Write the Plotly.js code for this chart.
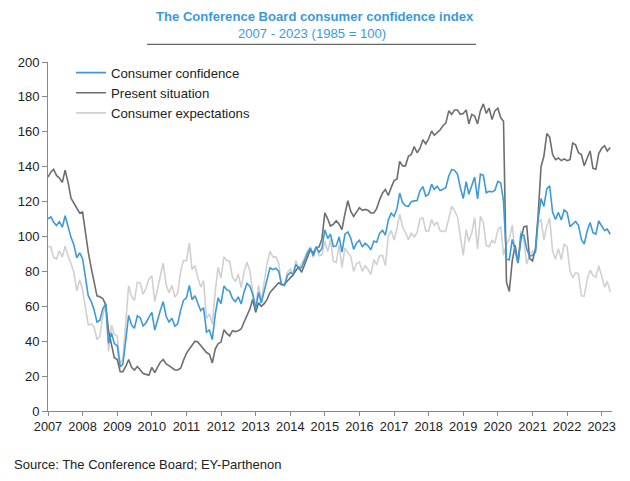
<!DOCTYPE html>
<html>
<head>
<meta charset="utf-8">
<script src="https://cdn.plot.ly/plotly-3.0.1.min.js"></script>
<style>html,body{margin:0;padding:0;background:#fff;}#chart{width:630px;height:481px;}</style>
</head>
<body>
<div id="chart"></div>
<script>
// Monthly observations, Jan 2007 - Apr 2023
const startYear = 2007;
const consumerConfidence = [
 110.2,111.2,108.2,106.3,108.5,105.3,111.9,105.6,99.5,95.2,87.8,90.6,
 87.3,76.4,65.9,62.8,58.1,51.0,51.9,58.5,61.4,38.8,44.7,38.6,
 37.4,25.3,26.9,40.8,54.8,49.3,47.4,54.5,53.4,48.7,50.6,53.6,
 56.5,46.4,52.3,57.7,62.7,54.3,51.0,53.2,48.6,49.9,57.8,63.4,
 64.8,72.0,63.8,66.0,61.7,57.6,59.2,45.2,46.4,40.9,55.2,64.8,
 61.5,71.6,69.5,68.7,64.4,62.7,65.4,61.3,68.4,73.1,71.5,66.7,
 58.4,68.0,61.9,69.0,76.2,82.1,81.0,81.8,80.2,72.4,72.0,77.5,
 79.4,78.3,83.9,81.7,82.2,86.4,90.3,93.4,89.0,94.1,91.0,93.1,
 103.8,98.8,101.4,94.3,94.6,99.8,91.0,101.3,102.6,99.1,92.6,96.3,
 97.8,94.0,96.2,94.7,92.4,97.4,96.7,101.8,103.5,100.8,109.4,113.3,
 111.6,116.1,124.9,119.4,117.6,117.3,120.0,120.4,120.6,126.2,128.6,123.1,
 124.3,130.0,127.0,128.8,126.4,127.1,127.9,134.7,138.4,137.9,135.7,128.1,
 121.7,131.4,124.2,129.2,134.1,121.5,135.7,135.1,125.1,125.9,125.5,126.5,
 131.6,130.7,120.0,86.9,86.6,98.3,92.6,84.8,101.3,100.9,92.9,88.6,
 89.3,91.3,109.7,121.7,117.2,127.3,129.1,113.8,109.8,113.8,109.5,115.2,
 113.8,105.7,107.2,108.6,106.4,98.4,95.7,103.2,108.0,102.2,101.4,109.0,
 106.0,103.4,104.2,101.3
];
const presentSituation = [
 134,137,138.5,135,133.5,131,138,131,122,119,116.5,113.5,
 114,102,91,82,73,66,65.5,64.5,61,46,38,30.5,
 29.5,22.5,22.5,25.5,29.5,25,23.5,25.5,23.5,21.5,21,20.5,
 25,22,25,28,29.5,27,26,25,23.5,23.5,24.5,29,
 33,35.5,38,40,39.5,37.5,36,33.5,32.5,27.5,35.5,38.5,
 39.5,46.5,44.5,43,46,45.5,46,47,51,55,58.5,64,
 56.5,62,60,61.5,64,68,70,72,73.5,72.5,72.5,74.5,
 76.5,78,80.5,82.5,79.5,84.5,88,92.5,90.5,93.5,94,98.5,
 113.5,110,106,107,109,107,104,113,120.5,114.5,111.5,114,
 116.5,115,115.5,115,113.5,113.5,116,121,125,127,123.5,128,
 132,133,143,140.5,140.5,146,147,151.5,148,150.5,155.5,153,
 156,160.5,158,159.5,161,163.5,165,172,170,172.5,172.5,170,
 170.5,172.5,164.5,170,169,164.5,172,176,170.5,173.5,167,172,
 173.5,168,166,74,68.5,86,95,85,98.5,105.5,106,87.5,
 86,93,112,140,146,159,157,147,144,145,143.5,144.5,
 143.5,144,153.5,152.5,148,147,140.5,145,149,139,138.5,147.5,
 150.5,152,149,151
];
const consumerExpectations = [
 94.3,94.0,88.0,87.2,91.8,88.2,94.5,88.7,84.5,79.3,68.7,75.3,
 69.5,59.3,49.2,50.0,48.2,41.0,42.8,54.5,61.7,34.0,49.2,44.0,
 42.7,27.2,29.8,51.0,71.7,65.5,63.3,73.8,73.3,66.8,70.3,75.7,
 77.5,62.7,70.5,77.5,84.8,72.5,67.7,72.0,65.3,67.5,80.0,86.3,
 86.0,96.3,81.0,83.3,76.5,71.0,74.7,53.0,55.7,49.8,68.3,82.3,
 76.2,88.3,86.2,85.8,76.7,74.2,78.3,70.8,80.0,85.2,80.2,68.5,
 59.7,72.0,63.2,74.0,84.3,91.5,88.3,88.3,84.7,72.3,71.7,79.5,
 81.3,78.5,86.2,81.2,84.0,87.7,91.8,94.0,88.0,94.5,89.0,89.5,
 97.3,91.3,98.3,85.8,85.0,95.0,82.3,93.5,90.7,88.8,80.0,84.5,
 85.3,80.0,83.3,81.2,78.3,86.7,83.8,89.0,89.2,83.3,100.0,103.5,
 98.0,104.8,112.8,105.3,102.3,98.2,102.0,99.7,102.3,110.0,110.7,103.2,
 103.2,109.7,106.3,108.3,103.3,102.8,103.2,109.8,117.3,114.8,111.2,100.2,
 89.2,104.0,97.3,102.0,110.8,92.8,111.5,107.8,94.8,94.2,97.8,96.2,
 103.7,105.8,89.3,95.5,98.7,106.5,91.0,84.7,103.2,97.8,84.2,89.3,
 91.5,90.2,108.2,109.5,98.0,106.2,110.5,91.7,87.0,93.0,86.8,95.7,
 94.0,80.2,76.3,79.3,78.7,66.0,65.8,75.3,80.7,77.7,76.7,83.3,
 76.3,71.0,74.3,68.2
];
const seriesNames = ['Consumer confidence','Present situation','Consumer expectations'];
const yearTicks = [2007,2008,2009,2010,2011,2012,2013,2014,2015,2016,2017,2018,2019,2020,2021,2022,2023];
const yTicks = [0,20,40,60,80,100,120,140,160,180,200];

function monthDates(n){
  const out=[];
  for(let i=0;i<n;i++){
    const y=startYear+Math.floor(i/12), m=(i%12)+1;
    out.push(y+'-'+String(m).padStart(2,'0')+'-01');
  }
  return out;
}
const dates = monthDates(consumerConfidence.length);

const F = 'Liberation Sans, Arial, sans-serif';
const traces = [
  {x:dates, y:consumerConfidence, name:seriesNames[0], type:'scatter', mode:'lines',
   line:{color:'#3d9ad6', width:1.6}, legendrank:1},
  {x:dates, y:presentSituation, name:seriesNames[1], type:'scatter', mode:'lines',
   line:{color:'#6e6e6e', width:1.6}, legendrank:2},
  {x:dates, y:consumerExpectations, name:seriesNames[2], type:'scatter', mode:'lines',
   line:{color:'#d0d0d0', width:1.6}, legendrank:3}
];
// draw order: expectations at back
const ordered = [traces[2], traces[1], traces[0]];

const PW = 564, PH = 349;
const layout = {
  width:630, height:481,
  margin:{l:48, r:18, t:62, b:70},
  paper_bgcolor:'#ffffff', plot_bgcolor:'#ffffff',
  font:{family:F, size:12, color:'#222'},
  showlegend:true,
  legend:{x:(71-48)/PW, y:1+4.5/PH, xanchor:'left', yanchor:'top', bgcolor:'rgba(0,0,0,0)',
    font:{family:F, size:13.2, color:'#222'}, itemwidth:30, tracegroupgap:0, traceorder:'normal'},
  xaxis:{type:'date', range:['2007-01-01','2023-04-20'],
    tickvals:yearTicks.map(y=>y+'-01-01'), ticktext:yearTicks.map(String),
    ticks:'outside', ticklen:4, tickcolor:'#888', showline:true, linecolor:'#888', linewidth:1,
    showgrid:false, zeroline:false, tickfont:{family:F, size:12.8, color:'#222'}},
  yaxis:{range:[0,200], tickvals:yTicks, ticks:'outside', ticklen:5, tickcolor:'#888',
    showline:true, linecolor:'#888', linewidth:1, showgrid:false, zeroline:false,
    tickfont:{family:F, size:13, color:'#222'}},
  annotations:[
    {text:'<b>The Conference Board consumer confidence index</b>', xref:'paper', yref:'paper',
     x:(315-48)/PW, y:1+(62-16)/PH, xanchor:'center', yanchor:'middle', showarrow:false,
     font:{family:F, size:13.1, color:'#3d9ad6'}},
    {text:'2007 - 2023 (1985 = 100)', xref:'paper', yref:'paper',
     x:(312-48)/PW, y:1+(62-33.5)/PH, xanchor:'center', yanchor:'middle', showarrow:false,
     font:{family:F, size:13.1, color:'#3d9ad6'}},
    {text:'Source: The Conference Board; EY-Parthenon', xref:'paper', yref:'paper',
     x:-(48-12)/PW, y:-(464-411)/PH, xanchor:'left', yanchor:'middle', showarrow:false,
     font:{family:F, size:13, color:'#222'}}
  ],
  shapes:[
    {type:'line', xref:'paper', yref:'paper', x0:(147-48)/PW, x1:(476-48)/PW,
     y0:1+(62-44.3)/PH, y1:1+(62-44.3)/PH, line:{color:'#404040', width:1}}
  ]
};
Plotly.newPlot('chart', ordered, layout, {displayModeBar:false, staticPlot:true});
</script>
</body>
</html>
